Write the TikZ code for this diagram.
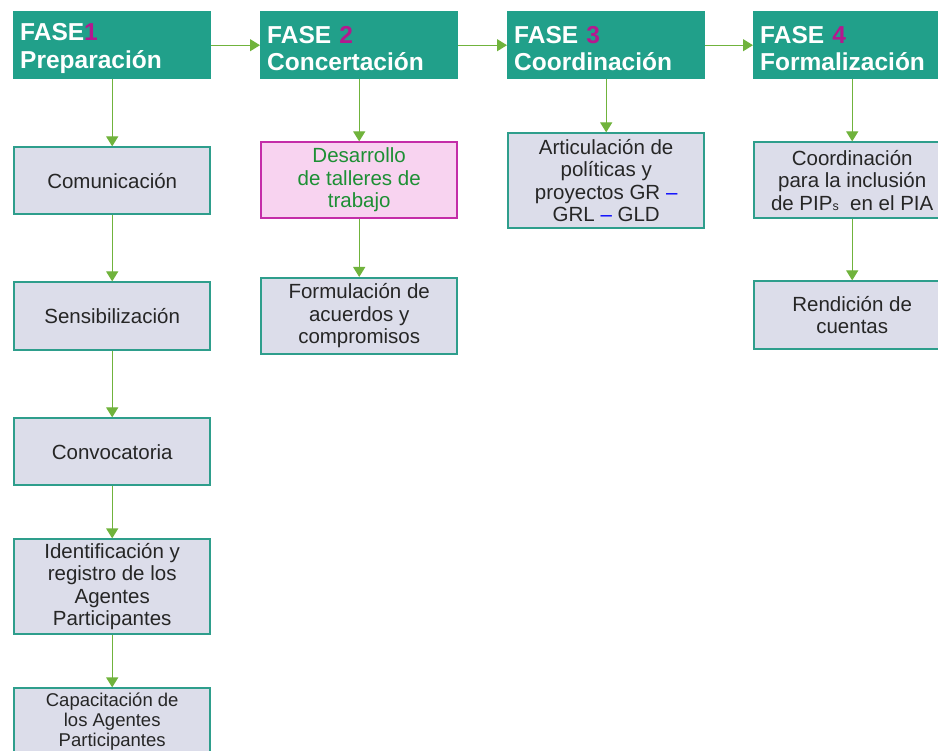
\documentclass[tikz,border=0pt]{standalone}
\usepackage{fontspec}
\setmainfont{Liberation Sans}
\usetikzlibrary{positioning, arrows.meta}
\definecolor{faseTeal}{HTML}{21A08A}
\definecolor{pasoFill}{HTML}{DCDDEA}
\definecolor{pasoLine}{HTML}{2E9E8C}
\definecolor{tallerFill}{HTML}{F8D3F0}
\definecolor{tallerLine}{HTML}{C42DA8}
\definecolor{tallerText}{HTML}{1D8F34}
\definecolor{flechaGreen}{HTML}{70B33C}
\definecolor{numMagenta}{HTML}{B4188F}
\newcommand{\num}[1]{\textcolor{numMagenta}{#1}}
\newcommand{\guion}{\textcolor{blue}{--}}

\begin{document}
\begin{tikzpicture}[
		x=1pt, y=-1pt,
		fase/.style={rectangle, fill=faseTeal, text=white, anchor=north west,
			minimum height=68pt, text width=184pt, inner xsep=7pt, align=left,
			font=\fontsize{24.5}{27.5}\selectfont\bfseries},
		paso/.style={rectangle, draw=pasoLine, line width=1.6pt, fill=pasoFill,
			minimum width=196pt, align=center, text=black!85,
			font=\fontsize{20.5}{22.5}\selectfont},
		taller/.style={paso, draw=tallerLine, fill=tallerFill, text=tallerText},
		flecha/.style={-{Triangle[width=12pt, length=10pt]}, draw=flechaGreen,
			fill=flechaGreen, line width=1.2pt},
		]
		\clip (0,0) rectangle (938,751);
		
		% Fases (top row)
		\node[fase] (f1) at (13,11)  {\rule{0pt}{24pt}FASE\num{1}\\Preparación};
		\node[fase] (f2) at (260,11) {\rule{0pt}{24pt}FASE \num{2}\\Concertación};
		\node[fase] (f3) at (507,11) {\rule{0pt}{24pt}FASE \num{3}\\Coordinación};
		\node[fase] (f4) at (753,11) {\rule{0pt}{24pt}FASE \num{4}\\Formalización};
		
		\draw[flecha] (f1) -- (f2);
		\draw[flecha] (f2) -- (f3);
		\draw[flecha] (f3) -- (f4);
		
		% Fase 1 steps
		\node[paso, minimum height=67pt, below=67pt of f1] (com) {Comunicación};
		\node[paso, minimum height=68pt, below=66.4pt of com] (sens) {Sensibilización};
		\node[paso, minimum height=67pt, below=66.4pt of sens] (conv) {Convocatoria};
		\node[paso, minimum height=95pt, below=52.4pt of conv] (ident)
		{Identificación y\\registro de los\\Agentes\\Participantes};
		\node[paso, minimum height=95pt, below=52.4pt of ident, font=\fontsize{18.5}{20}\selectfont] (capac)
		{Capacitación de\\los Agentes\\Participantes\\[12pt]};
		
		\draw[flecha] (f1) -- (com);
		\draw[flecha] (com) -- (sens);
		\draw[flecha] (sens) -- (conv);
		\draw[flecha] (conv) -- (ident);
		\draw[flecha] (ident) -- (capac);
		
		% Fase 2 steps
		\node[taller, minimum height=76pt, below=62pt of f2] (talleres)
		{Desarrollo\\de talleres de\\trabajo};
		\node[paso, minimum height=76pt, below=58pt of talleres] (acuerdos)
		{Formulación de\\acuerdos y\\compromisos};
		
		\draw[flecha] (f2) -- (talleres);
		\draw[flecha] (talleres) -- (acuerdos);
		
		% Fase 3 steps
		\node[paso, minimum height=95pt, below=53pt of f3] (artic)
		{Articulación de\\políticas y\\proyectos GR \guion\\GRL \guion{} GLD};
		
		\draw[flecha] (f3) -- (artic);
		
		% Fase 4 steps
		\node[paso, minimum height=76pt, below=62pt of f4] (coord)
		{Coordinación\\para la inclusión\\de PIP{\fontsize{12.5}{12}\selectfont s}\ \ en el PIA};
		\node[paso, minimum height=68pt, below=61.4pt of coord] (rend)
		{Rendición de\\cuentas};
		
		\draw[flecha] (f4) -- (coord);
		\draw[flecha] (coord) -- (rend);
	\end{tikzpicture}
\end{document}
